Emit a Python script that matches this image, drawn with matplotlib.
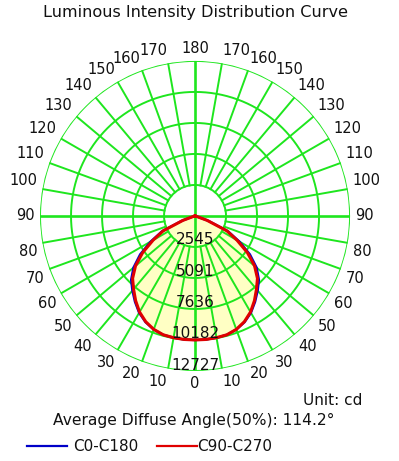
import numpy as np
import matplotlib
matplotlib.use("Agg")
import matplotlib.pyplot as plt
from matplotlib.lines import Line2D

# gamma angles (deg) and intensities (cd)
angles = [0, 5, 10, 15, 20, 25, 30, 35, 40, 45, 50, 55, 60, 65, 70, 75, 80, 85, 90,
          100, 120, 140, 160, 180]
c0_c180 = [10182, 10180, 10150, 10100, 9920, 9620, 9180, 8600, 8000, 7420, 6600, 5500,
           4200, 3000, 1150, 120, 30, 10, 0, 0, 0, 0, 0, 0]
c90_c270 = [10182, 10180, 10150, 10100, 9910, 9580, 9110, 8500, 7850, 7250, 6380, 5250,
            3980, 2880, 1050, 100, 30, 10, 0, 0, 0, 0, 0, 0]

ring_values = [2545, 5091, 7636, 10182, 12727]
angle_labels = list(range(0, 181, 10))

title = "Luminous Intensity Distribution Curve"
unit_text = "Unit: cd"
beam_text = "Average Diffuse Angle(50%): 114.2\u00b0"

GREEN = "#1EE61E"
BLUE = "#0000C8"
RED = "#E00000"
FILL = "#FFFFC4"
TXT = "#111111"


def mirror(ang, vals):
    a = np.radians(np.array(ang, dtype=float))
    v = np.array(vals, dtype=float)
    th = np.concatenate([-a[::-1], a[1:]])
    r = np.concatenate([v[::-1], v[1:]])
    return th, r


fig = plt.figure(figsize=(3.99, 4.61), dpi=100)
ax = fig.add_axes([0.1003, 0.1953, 0.777, 0.6725], projection="polar")
ax.set_theta_zero_location("S")
ax.set_ylim(0, ring_values[-1])
ax.grid(False)
ax.set_xticks([])
ax.set_yticks([])
ax.spines["polar"].set_visible(False)
ax.patch.set_alpha(0)

# fill under the curve
th_red, r_red = mirror(angles, c90_c270)
th_blue, r_blue = mirror(angles, c0_c180)
ax.fill(th_red, r_red, color=FILL, zorder=1, lw=0)

# grid rings
circ = np.linspace(0, 2 * np.pi, 721)
for rv in ring_values:
    ax.plot(circ, np.full_like(circ, rv), color=GREEN, lw=1.4, zorder=2)

# radial lines
for a in range(0, 360, 10):
    t = np.radians(a)
    if a % 90 == 0:
        ax.plot([t, t], [0, ring_values[-1]], color=GREEN, lw=1.9, zorder=2)
    else:
        ax.plot([t, t], [ring_values[0], ring_values[-1]], color=GREEN, lw=1.4, zorder=2)

# curves
ax.plot(th_blue, r_blue, color=BLUE, lw=1.7, zorder=3)
ax.plot(th_red, r_red, color=RED, lw=2.2, zorder=4)

# ring labels
for rv in ring_values:
    ax.text(0, rv * 1.01, str(rv), ha="center", va="bottom", fontsize=11,
            color=TXT, zorder=5)

# angle labels round the outside
R = ring_values[-1] * 160 / 155
for a in angle_labels:
    if a < 90:
        va = "top"
    elif a == 90:
        va = "center"
    else:
        va = "bottom"
    sides = [0] if a in (0, 180) else [1, -1]
    for s in sides:
        if s == 0:
            ha = "center"
        else:
            ha = "left" if s > 0 else "right"
        ax.text(np.radians(a * (s if s else 1)), R, str(a), ha=ha, va=va,
                fontsize=10.5, color=TXT)

fig.text(0.491, 0.972, title, ha="center", va="center", fontsize=11.6, color=TXT)
fig.text(0.907, 0.1302, unit_text, ha="right", va="center", fontsize=11, color=TXT)
fig.text(0.486, 0.0889, beam_text, ha="center", va="center", fontsize=11.2, color=TXT)

# legend
ly = 0.0325
fig.add_artist(Line2D([0.068, 0.168], [ly, ly], transform=fig.transFigure, color=BLUE, lw=1.6))
fig.text(0.183, ly, "C0-C180", ha="left", va="center", fontsize=11, color=TXT)
fig.add_artist(Line2D([0.3935, 0.4937], [ly, ly], transform=fig.transFigure, color=RED, lw=1.6))
fig.text(0.4937, ly, "C90-C270", ha="left", va="center", fontsize=11, color=TXT)

fig.savefig("out.png", dpi=100, facecolor="white")
